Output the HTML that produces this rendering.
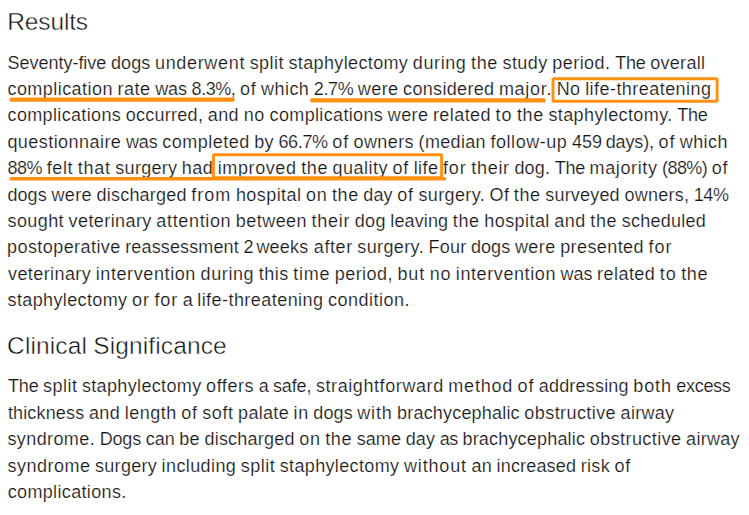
<!DOCTYPE html>
<html lang="en"><head><meta charset="utf-8"><title>Results</title>
<style>
html,body{margin:0;padding:0;background:#fff;}
body{width:749px;height:515px;position:relative;overflow:hidden;font-family:"Liberation Sans",sans-serif;color:#141414;}
.l{position:absolute;white-space:nowrap;font-size:18.0px;line-height:26px;height:26px;margin:0;-webkit-text-stroke:0.2px #fff;}
.h{position:absolute;white-space:nowrap;font-size:24.5px;line-height:30px;height:30px;margin:0;font-weight:normal;color:#101010;-webkit-text-stroke:0.45px #fff;}
svg{position:absolute;left:0;top:0;}
</style></head><body>
<h2 class="h" style="left:7.33px;top:7px;word-spacing:-0.56px"><span style="letter-spacing:-0.15px">Results</span></h2>
<p class="l" style="left:7.43px;top:50px;word-spacing:-0.44px"><span style="letter-spacing:-0.01px">Seventy-five</span> <span style="letter-spacing:0.11px">dogs</span> <span style="letter-spacing:0.67px">underwent</span> <span style="letter-spacing:0.46px">split</span> <span style="letter-spacing:0.36px">staphylectomy</span> <span style="letter-spacing:0.61px">during</span> <span style="letter-spacing:0.63px">the</span> <span style="letter-spacing:0.41px">study</span> <span style="letter-spacing:0.48px">period.</span> <span style="letter-spacing:-0.20px">The</span> <span style="letter-spacing:0.32px">overall</span></p>
<p class="l" style="left:7.45px;top:76px;word-spacing:-0.44px"><span style="letter-spacing:0.45px">complication</span> <span style="letter-spacing:0.52px">rate</span> <span style="letter-spacing:-0.03px">was</span> <span style="letter-spacing:-0.46px">8.3%,</span> <span style="letter-spacing:0.80px">of</span> <span style="letter-spacing:0.43px">which</span> <span style="letter-spacing:-0.40px">2.7%</span> <span style="letter-spacing:0.42px">were</span> <span style="letter-spacing:0.32px">considered</span> <span style="letter-spacing:0.69px">major.</span> <span style="letter-spacing:0.46px">No</span> <span style="letter-spacing:0.45px">life-threatening</span></p>
<p class="l" style="left:7.54px;top:102px;word-spacing:-0.45px"><span style="letter-spacing:0.35px">complications</span> <span style="letter-spacing:0.27px">occurred,</span> <span style="letter-spacing:0.43px">and</span> <span style="letter-spacing:0.69px">no</span> <span style="letter-spacing:0.35px">complications</span> <span style="letter-spacing:0.39px">were</span> <span style="letter-spacing:0.44px">related</span> <span style="letter-spacing:0.91px">to</span> <span style="letter-spacing:0.61px">the</span> <span style="letter-spacing:0.39px">staphylectomy.</span> <span style="letter-spacing:-0.21px">The</span></p>
<p class="l" style="left:7.40px;top:129px;word-spacing:-0.45px"><span style="letter-spacing:0.45px">questionnaire</span> <span style="letter-spacing:-0.05px">was</span> <span style="letter-spacing:0.47px">completed</span> <span style="letter-spacing:0.31px">by</span> <span style="letter-spacing:-0.33px">66.7%</span> <span style="letter-spacing:0.79px">of</span> <span style="letter-spacing:0.42px">owners</span> <span style="letter-spacing:0.32px">(median</span> <span style="letter-spacing:0.55px">follow-up</span> <span style="letter-spacing:0.04px">459</span> <span style="letter-spacing:-0.15px;margin-left:-1.0px;margin-right:0.2px">days),</span> <span style="letter-spacing:0.79px">of</span> <span style="letter-spacing:0.41px">which</span></p>
<p class="l" style="left:7.53px;top:155px;word-spacing:-0.45px"><span style="letter-spacing:-0.46px">88%</span> <span style="letter-spacing:0.62px">felt</span> <span style="letter-spacing:0.74px">that</span> <span style="letter-spacing:0.27px">surgery</span> <span style="letter-spacing:0.44px">had</span> <span style="letter-spacing:0.60px">improved</span> <span style="letter-spacing:0.62px">the</span> <span style="letter-spacing:0.47px">quality</span> <span style="letter-spacing:0.79px">of</span> <span style="letter-spacing:0.43px">life</span> <span style="letter-spacing:0.92px">for</span> <span style="letter-spacing:0.70px">their</span> <span style="letter-spacing:0.17px">dog.</span> <span style="letter-spacing:-0.21px">The</span> <span style="letter-spacing:0.61px">majority</span> <span style="letter-spacing:-0.59px">(88%)</span> <span style="letter-spacing:0.79px">of</span></p>
<p class="l" style="left:7.40px;top:182px;word-spacing:-0.45px"><span style="letter-spacing:0.10px">dogs</span> <span style="letter-spacing:0.40px">were</span> <span style="letter-spacing:0.20px">discharged</span> <span style="letter-spacing:1.03px">from</span> <span style="letter-spacing:0.43px">hospital</span> <span style="letter-spacing:0.69px">on</span> <span style="letter-spacing:0.61px">the</span> <span style="letter-spacing:0.13px">day</span> <span style="letter-spacing:0.78px">of</span> <span style="letter-spacing:0.36px">surgery.</span> <span style="letter-spacing:0.34px">Of</span> <span style="letter-spacing:0.61px">the</span> <span style="letter-spacing:0.19px">surveyed</span> <span style="letter-spacing:0.26px">owners,</span> <span style="letter-spacing:-0.46px">14%</span></p>
<p class="l" style="left:7.52px;top:208px;word-spacing:-0.44px"><span style="letter-spacing:0.41px">sought</span> <span style="letter-spacing:0.41px">veterinary</span> <span style="letter-spacing:0.66px">attention</span> <span style="letter-spacing:0.44px">between</span> <span style="letter-spacing:0.71px">their</span> <span style="letter-spacing:0.34px">dog</span> <span style="letter-spacing:0.12px">leaving</span> <span style="letter-spacing:0.62px">the</span> <span style="letter-spacing:0.44px">hospital</span> <span style="letter-spacing:0.45px">and</span> <span style="letter-spacing:0.62px">the</span> <span style="letter-spacing:0.24px">scheduled</span></p>
<p class="l" style="left:7.02px;top:234px;word-spacing:-0.44px"><span style="letter-spacing:0.43px">postoperative</span> <span style="letter-spacing:0.13px">reassessment</span> <span style="letter-spacing:0.06px">2</span> <span style="letter-spacing:0.24px;margin-left:-1.7px;margin-right:0.6px">weeks</span> <span style="letter-spacing:0.60px">after</span> <span style="letter-spacing:0.37px">surgery.</span> <span style="letter-spacing:0.18px">Four</span> <span style="letter-spacing:0.11px">dogs</span> <span style="letter-spacing:0.41px">were</span> <span style="letter-spacing:0.42px">presented</span> <span style="letter-spacing:0.93px">for</span></p>
<p class="l" style="left:8.01px;top:261px;word-spacing:-0.44px"><span style="letter-spacing:0.41px">veterinary</span> <span style="letter-spacing:0.60px">intervention</span> <span style="letter-spacing:0.61px">during</span> <span style="letter-spacing:0.47px">this</span> <span style="letter-spacing:0.73px">time</span> <span style="letter-spacing:0.43px">period,</span> <span style="letter-spacing:0.93px">but</span> <span style="letter-spacing:0.71px">no</span> <span style="letter-spacing:0.60px">intervention</span> <span style="letter-spacing:-0.04px">was</span> <span style="letter-spacing:0.45px">related</span> <span style="letter-spacing:0.92px">to</span> <span style="letter-spacing:0.63px">the</span></p>
<p class="l" style="left:7.52px;top:287px;word-spacing:-0.43px"><span style="letter-spacing:0.37px">staphylectomy</span> <span style="letter-spacing:0.92px">or</span> <span style="letter-spacing:0.94px">for</span> <span style="letter-spacing:-0.21px">a</span> <span style="letter-spacing:0.45px">life-threatening</span> <span style="letter-spacing:0.49px">condition.</span></p>
<h2 class="h" style="left:7.10px;top:331px;word-spacing:-0.50px"><span style="letter-spacing:0.12px">Clinical</span> <span style="letter-spacing:0.11px">Significance</span></h2>
<p class="l" style="left:8.08px;top:373px;word-spacing:-0.44px"><span style="letter-spacing:-0.21px">The</span> <span style="letter-spacing:0.46px">split</span> <span style="letter-spacing:0.35px">staphylectomy</span> <span style="letter-spacing:0.55px">offers</span> <span style="letter-spacing:-0.23px">a</span> <span style="letter-spacing:-0.14px">safe,</span> <span style="letter-spacing:0.59px">straightforward</span> <span style="letter-spacing:0.77px">method</span> <span style="letter-spacing:0.79px">of</span> <span style="letter-spacing:0.20px">addressing</span> <span style="letter-spacing:0.84px">both</span> <span style="letter-spacing:-0.32px">excess</span></p>
<p class="l" style="left:7.88px;top:400px;word-spacing:-0.45px"><span style="letter-spacing:0.16px">thickness</span> <span style="letter-spacing:0.44px">and</span> <span style="letter-spacing:0.45px">length</span> <span style="letter-spacing:0.79px">of</span> <span style="letter-spacing:0.54px">soft</span> <span style="letter-spacing:0.31px">palate</span> <span style="letter-spacing:0.62px">in</span> <span style="letter-spacing:0.10px">dogs</span> <span style="letter-spacing:0.78px">with</span> <span style="letter-spacing:0.19px">brachycephalic</span> <span style="letter-spacing:0.42px">obstructive</span> <span style="letter-spacing:0.29px">airway</span></p>
<p class="l" style="left:7.43px;top:426px;word-spacing:-0.44px"><span style="letter-spacing:0.40px">syndrome.</span> <span style="letter-spacing:-0.13px">Dogs</span> <span style="letter-spacing:-0.02px">can</span> <span style="letter-spacing:0.32px">be</span> <span style="letter-spacing:0.21px">discharged</span> <span style="letter-spacing:0.70px">on</span> <span style="letter-spacing:0.62px">the</span> <span style="letter-spacing:0.11px">same</span> <span style="letter-spacing:0.14px">day</span> <span style="letter-spacing:-0.41px">as</span> <span style="letter-spacing:0.19px">brachycephalic</span> <span style="letter-spacing:0.43px">obstructive</span> <span style="letter-spacing:0.30px">airway</span></p>
<p class="l" style="left:7.52px;top:453px;word-spacing:-0.44px"><span style="letter-spacing:0.49px">syndrome</span> <span style="letter-spacing:0.28px">surgery</span> <span style="letter-spacing:0.40px">including</span> <span style="letter-spacing:0.46px">split</span> <span style="letter-spacing:0.36px">staphylectomy</span> <span style="letter-spacing:0.83px">without</span> <span style="letter-spacing:0.29px">an</span> <span style="letter-spacing:0.17px">increased</span> <span style="letter-spacing:0.32px">risk</span> <span style="letter-spacing:0.80px">of</span></p>
<p class="l" style="left:7.68px;top:479px;word-spacing:-0.42px"><span style="letter-spacing:0.35px">complications.</span></p>
<svg width="749" height="515" viewBox="0 0 749 515">
<g fill="#ff9012">
<rect x="9.4" y="97.6" width="225.3" height="4.1" rx="1.6"/>
<rect x="310.2" y="98.3" width="235.4" height="4.2" rx="1.6"/>
<rect x="9.4" y="177.1" width="436.9" height="3.4" rx="1.6"/>
</g>
<g fill="none" stroke="#ff9012" stroke-width="2.9" stroke-linejoin="round">
<rect x="553" y="78.7" width="164.1" height="22.6" rx="0.6"/>
<rect x="213.4" y="154.8" width="228.2" height="23" rx="0.6"/>
</g>
</svg>
</body></html>
